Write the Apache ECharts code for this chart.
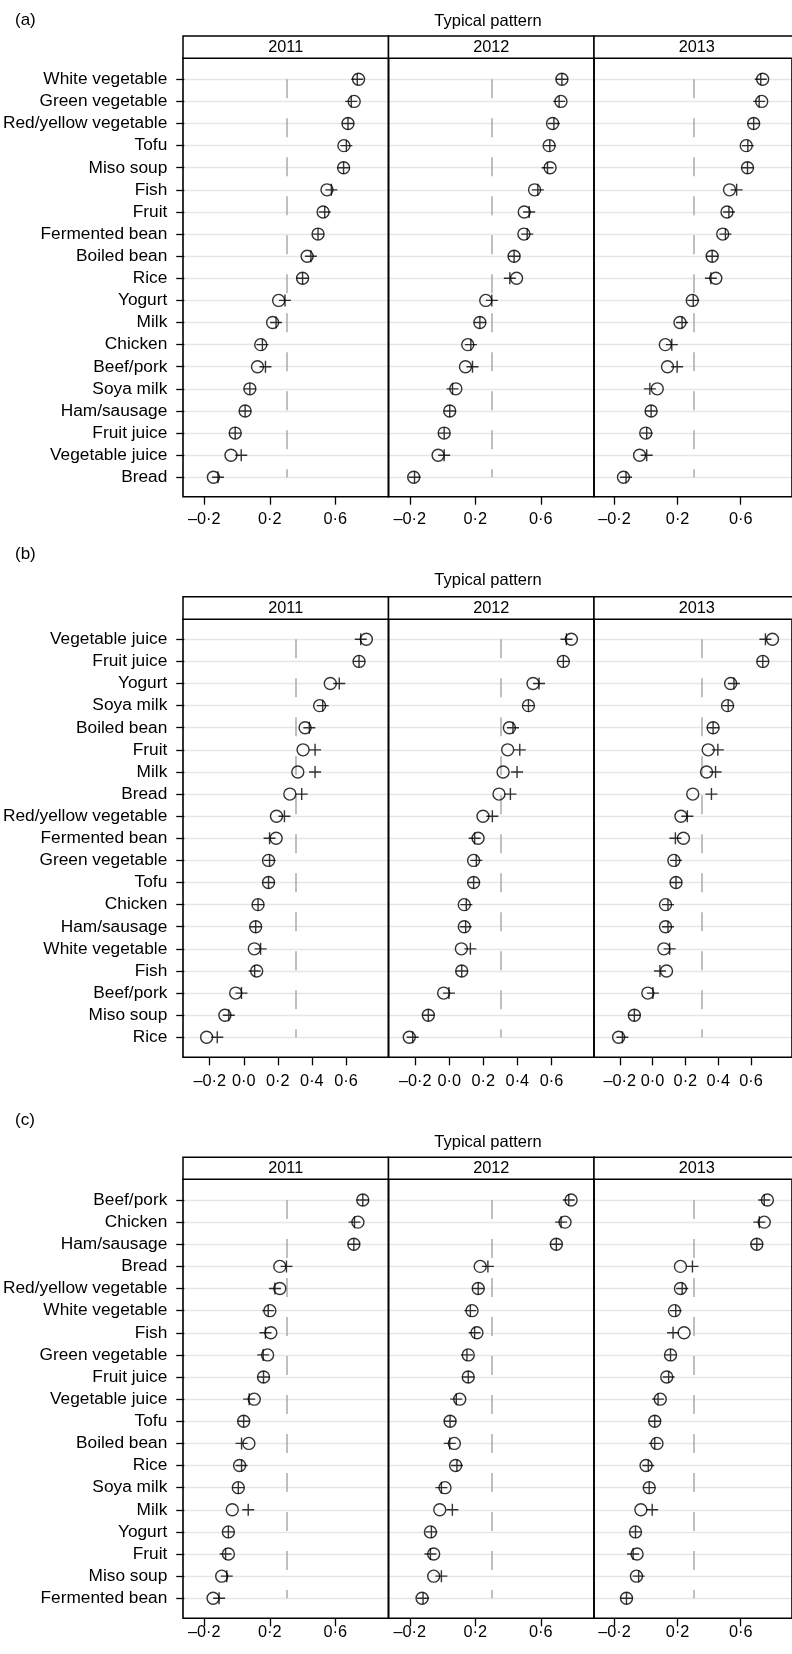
<!DOCTYPE html>
<html>
<head>
<meta charset="utf-8">
<script src="https://cdn.jsdelivr.net/npm/echarts@6/dist/echarts.min.js"></script>
<style>
  html, body { margin: 0; padding: 0; background: #fff; }
  #chart { width: 792px; height: 1654px; }
</style>
</head>
<body>
<div id="chart"></div>
<script>
// ---- data ----
const years = ['2011', '2012', '2013'];
const ticksAC = [-0.2, 0.2, 0.6];
const ticksB = [-0.2, 0.0, 0.2, 0.4, 0.6];
const refLine = 0.3;

const foodsA = ['White vegetable', 'Green vegetable', 'Red/yellow vegetable', 'Tofu', 'Miso soup', 'Fish', 'Fruit',
  'Fermented bean', 'Boiled bean', 'Rice', 'Yogurt', 'Milk', 'Chicken', 'Beef/pork', 'Soya milk', 'Ham/sausage',
  'Fruit juice', 'Vegetable juice', 'Bread'];
const circleA2011 = [0.741, 0.714, 0.676, 0.651, 0.649, 0.547, 0.523, 0.492, 0.425, 0.397, 0.250, 0.213, 0.140, 0.120, 0.073, 0.044, -0.017, -0.043, -0.151];
const plusA2011 = [0.733, 0.696, 0.676, 0.666, 0.649, 0.574, 0.533, 0.492, 0.448, 0.397, 0.289, 0.234, 0.150, 0.169, 0.073, 0.044, -0.017, 0.020, -0.123];
const circleA2012 = [0.729, 0.723, 0.672, 0.651, 0.657, 0.562, 0.499, 0.497, 0.437, 0.452, 0.264, 0.228, 0.154, 0.140, 0.081, 0.044, 0.010, -0.027, -0.176];
const plusA2012 = [0.729, 0.712, 0.680, 0.655, 0.641, 0.582, 0.529, 0.517, 0.437, 0.411, 0.301, 0.228, 0.173, 0.183, 0.061, 0.044, 0.010, 0.010, -0.171];
const circleA2013 = [0.739, 0.733, 0.682, 0.635, 0.643, 0.529, 0.513, 0.486, 0.419, 0.442, 0.293, 0.215, 0.122, 0.136, 0.071, 0.032, -0.002, -0.041, -0.143];
const plusA2013 = [0.727, 0.717, 0.682, 0.645, 0.643, 0.574, 0.525, 0.503, 0.419, 0.411, 0.299, 0.228, 0.163, 0.197, 0.024, 0.032, 0.004, 0.004, -0.127];

const foodsB = ['Vegetable juice', 'Fruit juice', 'Yogurt', 'Soya milk', 'Boiled bean', 'Fruit', 'Milk', 'Bread',
  'Red/yellow vegetable', 'Fermented bean', 'Green vegetable', 'Tofu', 'Chicken', 'Ham/sausage', 'White vegetable',
  'Fish', 'Beef/pork', 'Miso soup', 'Rice'];
const circleB2011 = [0.719, 0.676, 0.506, 0.443, 0.357, 0.345, 0.314, 0.267, 0.188, 0.186, 0.141, 0.141, 0.079, 0.065, 0.057, 0.071, -0.053, -0.117, -0.225];
const plusB2011 = [0.686, 0.676, 0.559, 0.461, 0.382, 0.416, 0.416, 0.337, 0.235, 0.147, 0.147, 0.141, 0.079, 0.065, 0.094, 0.059, -0.019, -0.094, -0.162];
const circleB2012 = [0.717, 0.670, 0.492, 0.465, 0.353, 0.343, 0.316, 0.292, 0.198, 0.169, 0.143, 0.143, 0.088, 0.088, 0.071, 0.073, -0.033, -0.123, -0.235];
const plusB2012 = [0.688, 0.670, 0.527, 0.465, 0.374, 0.414, 0.398, 0.359, 0.253, 0.149, 0.159, 0.143, 0.100, 0.096, 0.124, 0.073, -0.002, -0.123, -0.215];
const circleB2013 = [0.731, 0.672, 0.476, 0.457, 0.369, 0.339, 0.329, 0.245, 0.173, 0.188, 0.130, 0.143, 0.079, 0.079, 0.069, 0.085, -0.029, -0.111, -0.207];
const plusB2013 = [0.688, 0.672, 0.496, 0.461, 0.369, 0.398, 0.384, 0.359, 0.212, 0.139, 0.143, 0.143, 0.094, 0.094, 0.104, 0.045, 0.002, -0.111, -0.184];

const foodsC = ['Beef/pork', 'Chicken', 'Ham/sausage', 'Bread', 'Red/yellow vegetable', 'White vegetable', 'Fish',
  'Green vegetable', 'Fruit juice', 'Vegetable juice', 'Tofu', 'Boiled bean', 'Rice', 'Soya milk', 'Milk', 'Yogurt',
  'Fruit', 'Miso soup', 'Fermented bean'];
const circleC2011 = [0.767, 0.737, 0.712, 0.257, 0.257, 0.196, 0.202, 0.182, 0.157, 0.100, 0.035, 0.067, 0.010, 0.002, -0.035, -0.059, -0.059, -0.100, -0.153];
const plusC2011 = [0.767, 0.716, 0.712, 0.298, 0.227, 0.186, 0.169, 0.155, 0.157, 0.069, 0.035, 0.022, 0.022, 0.002, 0.063, -0.059, -0.076, -0.069, -0.116];
const circleC2012 = [0.785, 0.748, 0.695, 0.230, 0.218, 0.180, 0.210, 0.157, 0.157, 0.105, 0.046, 0.072, 0.080, 0.015, -0.017, -0.074, -0.054, -0.054, -0.125];
const plusC2012 = [0.771, 0.724, 0.695, 0.277, 0.218, 0.170, 0.196, 0.149, 0.157, 0.084, 0.046, 0.044, 0.088, -0.007, 0.060, -0.068, -0.074, -0.007, -0.119];
const circleC2013 = [0.769, 0.749, 0.702, 0.218, 0.218, 0.180, 0.241, 0.155, 0.131, 0.090, 0.055, 0.069, 0.000, 0.020, -0.033, -0.067, -0.057, -0.061, -0.124];
const plusC2013 = [0.749, 0.718, 0.702, 0.294, 0.229, 0.188, 0.171, 0.155, 0.143, 0.076, 0.055, 0.055, 0.014, 0.020, 0.039, -0.067, -0.082, -0.047, -0.124];

// ---- layout ----
const FONT = '"Liberation Sans", Arial, sans-serif';
const panelLeft = [183, 388.5, 594];
const panelW = 205.5;

const sections = [
  { tag: '(a)', foods: foodsA, circles: [circleA2011, circleA2012, circleA2013], pluses: [plusA2011, plusA2012, plusA2013],
    ticks: ticksAC, xMin: -0.33, xMax: 0.925, tagY: 20, titleY: 21.5, stripTop: 36, stripBot: 58.3,
    rowTop: 79.3, rowBot: 477.3, frameBot: 496.7, labelGap: 15 },
  { tag: '(b)', foods: foodsB, circles: [circleB2011, circleB2012, circleB2013], pluses: [plusB2011, plusB2012, plusB2013],
    ticks: ticksB, xMin: -0.357, xMax: 0.85, tagY: 554, titleY: 580, stripTop: 596.7, stripBot: 619.3,
    rowTop: 639.3, rowBot: 1037.3, frameBot: 1057.3, labelGap: 16 },
  { tag: '(c)', foods: foodsC, circles: [circleC2011, circleC2012, circleC2013], pluses: [plusC2011, plusC2012, plusC2013],
    ticks: ticksAC, xMin: -0.33, xMax: 0.925, tagY: 1120, titleY: 1142, stripTop: 1157.3, stripBot: 1179.3,
    rowTop: 1200, rowBot: 1598.3, frameBot: 1618.3, labelGap: 6.5 }
];

function fmtTick(v) {
  return (v < 0 ? '\u2013' : '') + Math.abs(v).toFixed(1).replace('.', '\u00b7');
}

const grids = [], xAxes = [], yAxes = [], series = [], graphics = [];

sections.forEach(function (s) {
  graphics.push({ type: 'text', x: 15, y: s.tagY,
    style: { text: s.tag, fill: '#000', font: '17px ' + FONT,
      align: 'left', verticalAlign: 'middle', textAlign: 'left', textVerticalAlign: 'middle' } });
  graphics.push({ type: 'text', x: 488, y: s.titleY,
    style: { text: 'Typical pattern', fill: '#000', font: '16.5px ' + FONT,
      align: 'center', verticalAlign: 'middle', textAlign: 'center', textVerticalAlign: 'middle' } });

  years.forEach(function (yr, p) {
    const left = panelLeft[p];
    // strip
    graphics.push({ type: 'rect', z: 5,
      shape: { x: left, y: s.stripTop, width: panelW, height: s.stripBot - s.stripTop },
      style: { fill: '#fff', stroke: '#000', lineWidth: 1.5 } });
    graphics.push({ type: 'text', z: 6, x: left + panelW / 2, y: (s.stripTop + s.stripBot) / 2 + 0.5,
      style: { text: yr, fill: '#000', font: '16.3px ' + FONT,
        align: 'center', verticalAlign: 'middle', textAlign: 'center', textVerticalAlign: 'middle' } });

    // frame grid (border + x ticks)
    const g = grids.length;
    grids.push({ show: true, left: left, top: s.stripBot, width: panelW, height: s.frameBot - s.stripBot,
      borderColor: '#000', borderWidth: 1.6, backgroundColor: 'rgba(0,0,0,0)', z: 4 });
    xAxes.push({ gridIndex: g, type: 'value', min: s.xMin, max: s.xMax, position: 'bottom',
      axisLine: { show: false, onZero: false }, splitLine: { show: false },
      axisTick: { show: true, customValues: s.ticks, length: 8, lineStyle: { color: '#000', width: 1.3 } },
      axisLabel: { show: true, customValues: s.ticks, formatter: fmtTick, margin: s.labelGap,
        fontSize: 16.3, color: '#000', fontFamily: FONT } });
    yAxes.push({ gridIndex: g, type: 'value', min: 0, max: 1, show: false });

    // data grid
    const d = grids.length;
    grids.push({ show: false, left: left, top: s.rowTop, width: panelW, height: s.rowBot - s.rowTop });
    xAxes.push({ gridIndex: d, type: 'value', min: s.xMin, max: s.xMax, show: false });
    yAxes.push({ gridIndex: d, type: 'value', min: 0, max: 18, interval: 1, inverse: true, position: 'left',
      axisLine: { show: false, onZero: false },
      axisTick: { show: p === 0, length: 8, lineStyle: { color: '#000', width: 1.3 } },
      axisLabel: { show: p === 0, margin: 17, fontSize: 17.3, color: '#000', fontFamily: FONT,
        formatter: function (v) { return s.foods[v] || ''; } },
      splitLine: { show: true, lineStyle: { color: '#e6e6e6', width: 1.3 } } });

    series.push({
      type: 'scatter', xAxisIndex: d, yAxisIndex: d, clip: false, silent: true, z: 3,
      symbol: 'circle', symbolSize: 12,
      itemStyle: { color: 'rgba(0,0,0,0)', borderColor: '#000', borderWidth: 1.4 },
      data: s.circles[p].map(function (v, i) { return [v, i]; }),
      markLine: { silent: true, symbol: 'none', label: { show: false }, z: 1,
        lineStyle: { color: '#aaaaaa', width: 1.5, type: [19, 20] },
        data: [{ xAxis: refLine }] }
    });
    series.push({
      type: 'scatter', xAxisIndex: d, yAxisIndex: d, clip: false, silent: true, z: 4,
      symbol: 'path://M0,5L10,5M5,0L5,10', symbolSize: 12,
      itemStyle: { color: 'none', borderColor: '#000', borderWidth: 1.4 },
      data: s.pluses[p].map(function (v, i) { return [v, i]; })
    });
  });
});

const chart = echarts.init(document.getElementById('chart'), null, { renderer: 'canvas' });
chart.setOption({
  animation: false,
  backgroundColor: '#fff',
  textStyle: { fontFamily: FONT },
  grid: grids,
  xAxis: xAxes,
  yAxis: yAxes,
  series: series,
  graphic: graphics
});
</script>
</body>
</html>
